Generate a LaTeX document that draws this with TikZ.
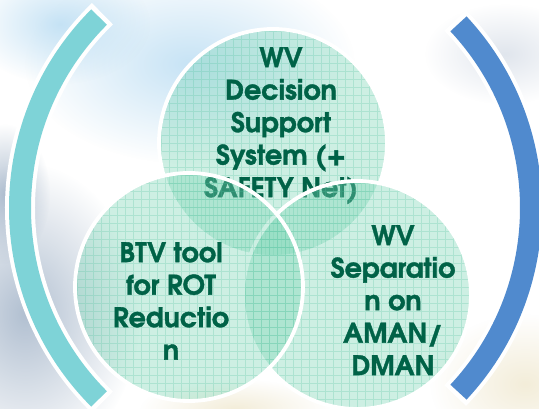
\documentclass[tikz,border=0pt]{standalone}
\usepackage{fontspec}
\setmainfont{TeX Gyre Adventor}[BoldFeatures={FakeBold=1.3}]
\usetikzlibrary{fadings}
\definecolor{mint}{HTML}{7CD6B6}
\definecolor{gridmint}{HTML}{4FC29E}
\definecolor{dgreen}{HTML}{006247}
\definecolor{arcteal}{HTML}{7ED3D7}
\definecolor{arcblue}{HTML}{508ACE}
\definecolor{skyblue}{HTML}{B4DAF2}
\definecolor{hazegrey}{HTML}{98ABC2}
\definecolor{sand}{HTML}{EFE7CC}
\tikzfading[name=softblob, inner color=transparent!25, outer color=transparent!100]
\tikzset{
  venn/.style={circle, minimum size=228pt, inner sep=0pt, fill=mint, fill opacity=0.38,
               draw=white, line width=3.8pt,
               path picture={\draw[gridmint, draw opacity=0.25, line width=0.5pt, step=8pt]
                 (path picture bounding box.south west) grid (path picture bounding box.north east);}},
  lbl/.style={anchor=north, inner sep=0pt, align=center, text=dgreen,
              font=\bfseries\fontsize{27}{32.5}\selectfont},
  bracket/.style={line width=22pt, draw=#1},
  halo/.style={line width=30pt, draw=white},
  haze/.style={fill=#1, path fading=softblob},
}

\begin{document}
\begin{tikzpicture}[x=1pt, y=1pt]
  \useasboundingbox (0,0) rectangle (539,409);
  \fill[white] (0,0) rectangle (539,409);
  \fill[haze=skyblue] (190,345) ellipse (165 and 100);
  \fill[haze=skyblue] (60,385) ellipse (90 and 60);
  \fill[haze=hazegrey] (25,95) ellipse (115 and 150);
  \fill[haze=hazegrey] (5,215) ellipse (45 and 70);
  \fill[haze=sand] (525,25) ellipse (95 and 70);
  \fill[haze=sand] (235,0) ellipse (95 and 30);
  \fill[haze=hazegrey!40] (505,355) ellipse (80 and 50);

  % brackets either side
  \coordinate (lc) at (290,201);
  \coordinate (rc) at (261,201);
  \draw[halo] (lc) ++(134:270) arc[start angle=134, end angle=226, radius=270];
  \draw[bracket=arcteal] (lc) ++(135:270) arc[start angle=135, end angle=225, radius=270];
  \draw[halo] (rc) ++(-44:270) arc[start angle=-44, end angle=44, radius=270];
  \draw[bracket=arcblue] (rc) ++(-43:270) arc[start angle=-43, end angle=43, radius=270];

  \node[venn] (dss) at (273,266) {};
  \node[lbl] (dsstext) at (281,362) {WV\\Decision\\Support\\System (+\\SAFETY Net)};
  \node[venn] (sep) at (357,114) {};
  \node[lbl] (septext) at (393,184) {WV\\Separatio\\n on\\AMAN/\\DMAN};
  \node[venn] (btv) at (189,122) {};
  \node[lbl] (btvtext) at (171,167) {BTV tool\\for ROT\\Reductio\\n};
\end{tikzpicture}
\end{document}
